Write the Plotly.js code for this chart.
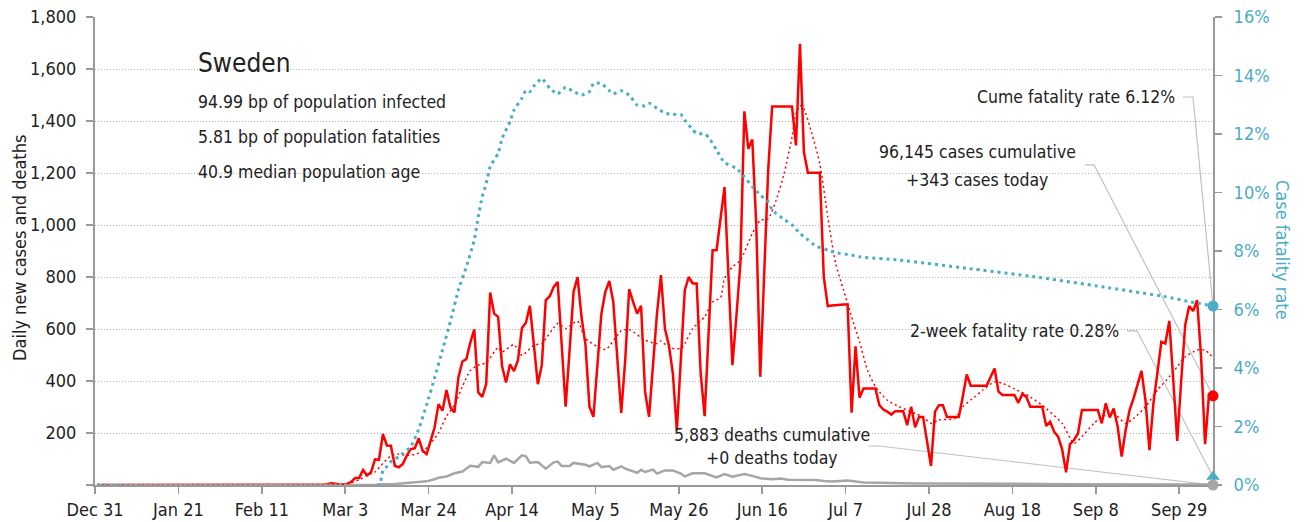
<!DOCTYPE html>
<html><head><meta charset="utf-8">
<script src="https://cdn.plot.ly/plotly-3.0.1.min.js"></script>
<style>html,body{margin:0;padding:0;background:#fff;}#chart{width:1312px;height:522px;}</style>
</head><body><div id="chart"></div>
<script>
const FONT = "'Liberation Sans Narrow','Arial Narrow','DejaVu Sans Condensed','Roboto Condensed',sans-serif";
const BLUE = '#4bacc6', RED = '#ff0000', GRAY = '#a6a6a6', INK = '#222222';

// Daily new cases, one value per day starting Dec 31, 2019
const dailyCases = [
 0,0,0,0,0,0,0,0,0,0, 0,0,0,0,0,0,0,0,0,0, 0,0,0,0,0,0,0,0,0,0, 0,1,0,0,0,0,0,0,0,0,
 0,0,0,0,0,0,0,0,0,0, 0,0,0,0,0,0,1,1,3,7, 5,2,2,4,12,27,27,58,37,49,
 99,97,196,152,151,74,68,81,113,138, 141,179,132,119,170,221,311,286,365,298,
 279,414,475,484,548,599,356,339,388,740, 659,647,457,394,464,438,480,604,624,689,
 540,388,461,711,726,762,781,540,301,519, 743,800,647,538,301,262,480,659,743,785,
 704,480,277,480,753,704,659,689,359,262, 455,659,807,602,538,429,210,480,749,800,
 775,775,429,265,584,903,903,1025,1146,803, 461,650,851,1437,1293,1329,1000,416,810,1210,
 1456,1456,1456,1456,1456,1456,1306,1697,1280,1201, 1201,1201,1201,800,688,690,692,694,694,694,
 278,533,336,371,371,371,371,307,290,282, 271,284,284,284,230,301,222,262,262,170,
 73,282,307,307,262,262,262,262,340,425, 382,382,382,382,382,415,448,359,346,346,
 346,346,316,350,339,301,301,301,301,227, 243,205,186,138,49,157,173,198,288,288,
 288,288,288,237,314,260,294,224,109,211, 288,333,386,439,326,134,314,442,551,544,
 631,403,170,403,615,688,669,711,493,157, 348,343
];

// 7-day average of cases: day index, value
const avgDays = [0,60,63,66,68,70,72,74,76,78,80,82,84,86,88,90,92,94,96,98,101,102,105,107,110,112,116,118,121,123,128,132,134,138,141,142,144,147,148,150,153,155,157,158,160,162,165,167,169,171,173,175,176,177,178,180,182,184,186,188,190,192,194,196,199,202,206,208,210,212,216,218,221,223,226,228,231,235,239,243,246,248,251,253,256,259,261,264,267,270,272,274,277,279,281];
const avgCases = [0,0,4,20,38,50,83,112,119,114,118,128,160,200,265,308,378,440,461,470,529,512,540,499,538,544,621,602,630,563,521,593,598,557,544,554,529,525,544,602,647,704,720,794,839,864,967,1018,1024,1095,1197,1338,1428,1460,1447,1351,1236,1031,851,749,647,551,442,378,326,301,275,262,237,250,256,301,339,365,397,391,370,339,294,237,160,186,237,262,275,237,256,301,365,416,455,493,519,519,490];

// Daily deaths (grey line): day index, value
const deathDays = [0,70,71,75,78,81,83,85,86,88,90,92,94,96,97,99,100,101,103,105,107,108,109,111,113,115,116,117,119,120,123,124,126,127,129,130,132,133,136,137,138,140,141,143,145,147,148,150,153,156,158,160,163,165,167,170,172,174,177,181,183,185,189,193,197,202,206,210,219,227,232,238,245,252,258,265,270,276,280,281];
const dailyDeaths = [0,0,3,4,8,10,14,22,28,33,45,52,74,70,88,85,114,87,101,85,114,110,86,88,63,87,90,73,73,85,78,72,85,69,73,59,72,63,47,59,50,59,44,56,56,44,33,45,45,29,42,32,42,35,26,22,25,20,19,19,15,13,17,10,9,6,6,6,6,6,4,4,3,3,2,3,2,2,2,0];

// Cumulative case fatality rate, % (blue dotted line): day index, value
const cfrDays = [0,71,72,73,74,76,79,81,83,85,87,89,91,93,95,96,97,98,99,101,102,104,105,107,108,109,110,112,114,116,118,120,122,124,125,127,129,130,132,134,136,138,139,141,143,145,147,148,150,151,153,154,156,158,161,163,165,167,169,170,173,175,177,179,181,184,186,190,192,202,219,236,253,269,275,281];
const cfrPct = [0,0,0.5,0.63,0.8,0.97,1.31,1.9,2.74,3.65,4.62,5.6,6.67,7.46,8.38,9.17,9.86,10.31,10.88,11.34,11.85,12.42,12.82,13.22,13.5,13.45,13.64,13.9,13.56,13.37,13.6,13.45,13.33,13.45,13.73,13.73,13.48,13.37,13.48,13.33,12.99,12.96,13.05,12.88,12.71,12.67,12.67,12.48,12.14,12.02,12.0,11.89,11.45,11.02,10.83,10.54,10.2,9.91,9.69,9.4,9.08,8.89,8.6,8.38,8.17,8.03,7.94,7.86,7.8,7.69,7.41,7.12,6.78,6.44,6.27,6.12];

const twoWeekCFR = 0.28;
const leftTickVals = [0,200,400,600,800,1000,1200,1400,1600,1800];
const leftTickText = ['','200','400','600','800','1,000','1,200','1,400','1,600','1,800'];

const infoLines = ['94.99 bp of population infected','5.81 bp of population fatalities','40.9 median population age'];

function dayToDate(d){
  const t = new Date(Date.UTC(2019,11,31) + d*864e5 + 12*36e5);
  return t.toISOString().slice(0,19).replace('T',' ');
}
const caseDates = dailyCases.map((_,i)=>dayToDate(i));
const lastDay = dailyCases.length-1;
const lastDate = dayToDate(lastDay);
const lastCases = dailyCases[lastDay];
const lastCFR = cfrPct[cfrPct.length-1];
const lastDeaths = dailyDeaths[dailyDeaths.length-1];

const traces = [
  {x: caseDates, y: dailyCases, type:'scatter', mode:'lines', line:{color:RED, width:2.5}, hoverinfo:'skip'},
  {x: deathDays.map(dayToDate), y: dailyDeaths, type:'scatter', mode:'lines', line:{color:GRAY, width:2.5}, hoverinfo:'skip'},
  {x: avgDays.map(dayToDate), y: avgCases, type:'scatter', mode:'lines', line:{color:RED, width:1.5, dash:'2px,3px', shape:'spline', smoothing:0.6}, hoverinfo:'skip'},
  {x: cfrDays.map(dayToDate), y: cfrPct, yaxis:'y2', type:'scatter', mode:'lines', line:{color:BLUE, width:3, dash:'3px,4px', shape:'spline', smoothing:0.4}, hoverinfo:'skip'},
  {x:[lastDate], y:[lastCases], type:'scatter', mode:'markers', marker:{color:RED, size:11}, cliponaxis:false},
  {x:[lastDate], y:[lastDeaths], type:'scatter', mode:'markers', marker:{color:GRAY, size:11}, cliponaxis:false},
  {x:[lastDate], y:[lastCFR], yaxis:'y2', type:'scatter', mode:'markers', marker:{color:BLUE, size:11}, cliponaxis:false},
  {x:[lastDate], y:[twoWeekCFR], yaxis:'y2', type:'scatter', mode:'markers', marker:{color:BLUE, size:12, symbol:'triangle-up'}, cliponaxis:false}
];

function px2paperX(X){return (X-95)/1118;}
function px2paperY(Y){return (485-Y)/468;}
function txt(text, X, Y, anchor, size, color, angle){
  return {text:text, xref:'paper', yref:'paper', x:px2paperX(X), y:px2paperY(Y), xanchor:anchor||'left', yanchor:'middle',
    showarrow:false, font:{family:FONT, size:size||17.5, color:color||INK}, textangle:angle||0};
}
const annotations = [
  txt('Sweden', 196, 63, 'left', 26),
  txt(infoLines[0], 196, 102, 'left', 17.5),
  txt(infoLines[1], 196, 137, 'left', 17.5),
  txt(infoLines[2], 196, 172, 'left', 17.5),
  txt('Cume fatality rate ' + lastCFR.toFixed(2) + '%', 1177, 97, 'right', 17.5),
  txt('96,145 cases cumulative', 977, 152, 'center', 17.5),
  txt('+' + lastCases + ' cases today', 977, 180, 'center', 17.5),
  txt('2-week fatality rate ' + twoWeekCFR.toFixed(2) + '%', 1121, 331, 'right', 17.5),
  txt('5,883 deaths cumulative', 772, 435, 'center', 17.5),
  txt('+' + lastDeaths + ' deaths today', 772, 458, 'center', 17.5),
  txt('Daily new cases and deaths', 19, 248, 'center', 18, INK, -90),
  txt('Case fatality rate', 1283, 250, 'center', 18, BLUE, 90)
];

function connector(yref, yval, path){
  return {type:'path', xref:'x', yref:yref, xsizemode:'pixel', ysizemode:'pixel', xanchor:lastDate, yanchor:yval,
    path:path, line:{color:'#c0c0c0', width:1.2}, layer:'below'};
}
const shapes = [
  connector('y2', lastCFR, 'M0,0 L-20,209 L-30,209'),
  connector('y', lastCases, 'M0,0 L-119,231 L-128,231'),
  connector('y2', twoWeekCFR, 'M0,0 L-76,146 L-86,146'),
  connector('y', lastDeaths, 'M0,0 L-334,39 L-345,39')
];

const layout = {
  width:1312, height:522,
  margin:{l:95, r:99, t:17, b:37, pad:0},
  paper_bgcolor:'#fff', plot_bgcolor:'#fff',
  showlegend:false,
  font:{family:FONT, size:18, color:INK},
  xaxis:{type:'date', range:['2019-12-31', lastDate], tick0:'2019-12-31', dtick:21*864e5, tickformat:'%b %-d',
    showgrid:false, zeroline:false, showline:true, linecolor:'#999', linewidth:2, ticks:'outside', ticklen:7, tickwidth:1.5, tickcolor:'#999',
    tickfont:{family:FONT, size:18, color:INK}, layer:'below traces', fixedrange:true},
  yaxis:{range:[0,1800], tickvals:leftTickVals, ticktext:leftTickText, showgrid:true, gridcolor:'#b5b5b5', griddash:'1px,2px', gridwidth:1,
    zeroline:false, showline:true, linecolor:'#999', linewidth:2, ticks:'outside', ticklen:7, tickwidth:1.5, tickcolor:'#999',
    tickfont:{family:FONT, size:18, color:INK}, ticklabelstandoff:6, layer:'below traces', fixedrange:true},
  yaxis2:{overlaying:'y', side:'right', range:[0,16], dtick:2, ticksuffix:'%', showgrid:false, zeroline:false, showline:true,
    linecolor:'#999', linewidth:2, ticks:'outside', ticklen:7, tickwidth:1.5, tickcolor:'#999',
    tickfont:{family:FONT, size:18, color:BLUE}, ticklabelstandoff:8, layer:'below traces', fixedrange:true},
  annotations:annotations,
  shapes:shapes
};
Plotly.newPlot('chart', traces, layout, {staticPlot:true, displayModeBar:false});
</script></body></html>
